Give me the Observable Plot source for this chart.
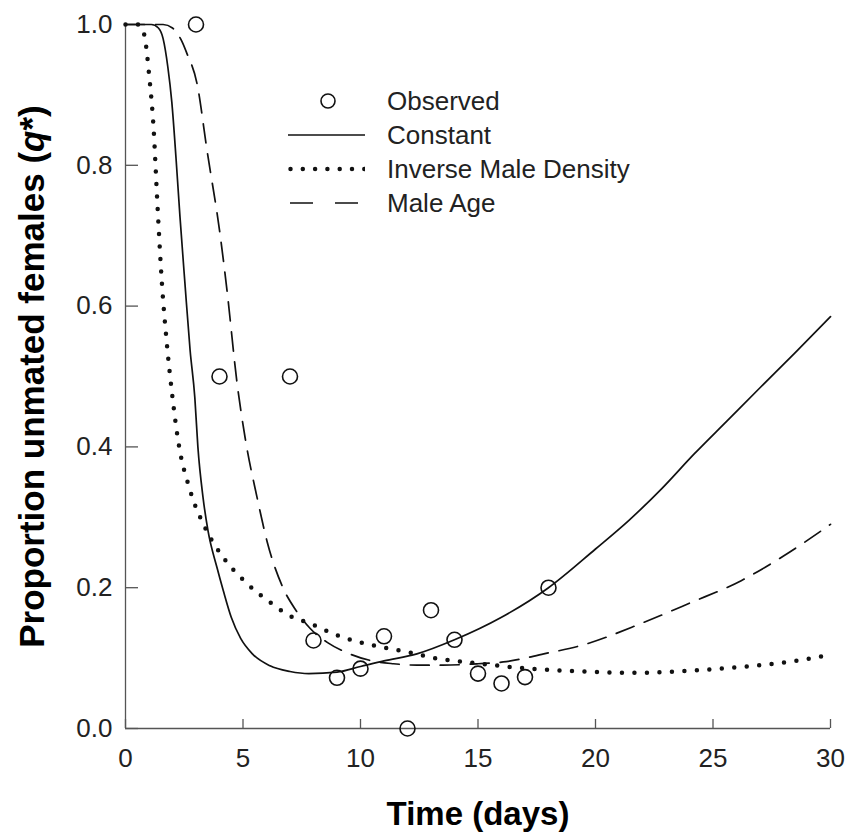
<!DOCTYPE html>
<html>
<head>
<meta charset="utf-8">
<script src="https://cdn.jsdelivr.net/npm/d3@7"></script>
<script src="https://cdn.jsdelivr.net/npm/@observablehq/plot@0.6"></script>
<style>
  html, body { margin: 0; padding: 0; background: #fff; }
  #wrap { position: relative; width: 845px; height: 832px; font-family: "Liberation Sans", Arial, sans-serif; color: #222; }
  #legend { position: absolute; left: 288px; top: 84px; }
  .row { display: flex; align-items: center; height: 34px; }
  .row svg { width: 77px; height: 34px; flex: none; }
  .row span { margin-left: 22px; font-size: 26px; line-height: 34px; white-space: nowrap; }
</style>
</head>
<body>
<div id="wrap">
  <div id="chart"></div>
  <div id="legend"></div>
</div>
<script>
// ---- data ----
const xTicks = [0, 5, 10, 15, 20, 25, 30];
const yTicks = [0.0, 0.2, 0.4, 0.6, 0.8, 1.0];

const observedDays = [3, 4, 7, 8, 9, 10, 11, 12, 13, 14, 15, 16, 17, 18];
const observedQ    = [1.0, 0.5, 0.5, 0.125, 0.072, 0.085, 0.131, 0.0, 0.168, 0.126, 0.078, 0.064, 0.073, 0.2];

const constantCurve = [
  [0, 1], [1.1, 1], [1.4, 0.995], [1.6, 0.98], [1.8, 0.94], [1.97, 0.89], [2.15, 0.81],
  [2.32, 0.726], [2.53, 0.632], [2.75, 0.537], [2.95, 0.47], [3.08, 0.4], [3.3, 0.328],
  [3.51, 0.281], [3.89, 0.229], [4.16, 0.196], [4.5, 0.158], [4.9, 0.128], [5.4, 0.106],
  [6.15, 0.089], [7, 0.081], [7.8, 0.078], [9, 0.08], [10, 0.088], [11, 0.096], [12.4, 0.106],
  [14, 0.126], [16, 0.158], [18, 0.2], [20, 0.255], [21.4, 0.295], [22.8, 0.34], [24.2, 0.39],
  [25.6, 0.437], [27, 0.484], [28.5, 0.534], [30, 0.585]
];

const inverseDensityCurve = [
  [0, 1], [0.55, 1], [0.7, 0.995], [0.83, 0.98], [1.0, 0.93], [1.2, 0.85], [1.35, 0.75],
  [1.55, 0.632], [1.75, 0.55], [1.98, 0.476], [2.24, 0.409], [2.75, 0.338], [3.39, 0.285],
  [4.16, 0.243], [5.17, 0.206], [6.2, 0.178], [7.0, 0.16], [7.86, 0.149], [9.2, 0.13],
  [10.55, 0.118], [12.1, 0.108], [13, 0.101], [15.1, 0.092], [17.2, 0.085], [19.4, 0.081],
  [21.5, 0.079], [24, 0.082], [26.7, 0.089], [28.5, 0.096], [30, 0.105]
];

const maleAgeCurve = [
  [0, 1], [1.6, 1], [2.0, 0.995], [2.4, 0.976], [2.6, 0.96], [3.05, 0.915], [3.47, 0.821],
  [4.02, 0.703], [4.32, 0.622], [4.75, 0.49], [5.09, 0.413], [5.6, 0.328], [6.03, 0.265],
  [6.7, 0.2], [7.25, 0.168], [7.86, 0.142], [8.6, 0.122], [9.4, 0.108], [10.5, 0.096],
  [11.4, 0.092], [12.4, 0.09], [13.5, 0.09], [15, 0.092], [16.2, 0.095], [17.8, 0.106],
  [19.4, 0.118], [22, 0.15], [24, 0.178], [26.2, 0.21], [28, 0.245], [30, 0.29]
];

const legendLabels = ["Observed", "Constant", "Inverse Male Density", "Male Age"];
const xTitle = "Time (days)";
const yTitle = "Proportion unmated females (q*)";

const observed = observedDays.map((d, i) => ({day: d, q: observedQ[i]}));

const ink = "#111";
const axisInk = "#555";

const chart = Plot.plot({
  width: 845,
  height: 832,
  marginLeft: 125,
  marginRight: 15,
  marginTop: 24,
  marginBottom: 104,
  x: {domain: [0, 30]},
  y: {domain: [0, 1]},
  style: {fontFamily: "'Liberation Sans', Arial, sans-serif", background: "#fff", color: "#222", overflow: "visible"},
  marks: [
    // axis lines
    Plot.ruleX([0], {stroke: axisInk, strokeWidth: 1.3}),
    Plot.ruleY([0], {stroke: axisInk, strokeWidth: 1.3}),
    // inward ticks
    Plot.ruleX(xTicks, {x: d => d, y1: () => 0, y2: () => 0, insetBottom: 9, stroke: axisInk, strokeWidth: 1.3}),
    Plot.ruleY(yTicks, {y: d => d, x1: () => 0, x2: () => 0, insetRight: -13, stroke: axisInk, strokeWidth: 1.3}),
    // tick labels
    Plot.axisX({ticks: xTicks, tickSize: 0, tickPadding: 20, fontSize: 26, label: null, tickFormat: d3.format("d")}),
    Plot.axisY({ticks: yTicks, tickSize: 0, tickPadding: 13, fontSize: 26, label: null, tickFormat: d3.format(".1f")}),
    // model curves
    Plot.line(maleAgeCurve, {x: d => d[0], y: d => d[1], curve: "monotone-x", stroke: ink, strokeWidth: 1.7, strokeDasharray: "19,11"}),
    Plot.line(constantCurve, {x: d => d[0], y: d => d[1], curve: "monotone-x", stroke: ink, strokeWidth: 1.7}),
    Plot.line(inverseDensityCurve, {x: d => d[0], y: d => d[1], curve: "monotone-x", stroke: ink, strokeWidth: 4.5, strokeDasharray: "0,12.5", strokeLinecap: "round"}),
    // observed
    Plot.dot(observed, {x: "day", y: "q", r: 7.5, stroke: ink, strokeWidth: 1.6, fill: "none"}),
    // axis titles
    Plot.text([xTitle], {text: d => d, frameAnchor: "bottom", dy: 86, textAnchor: "middle", lineAnchor: "middle", fontSize: 33, fontWeight: "bold", fill: "#000"}),
    Plot.text([yTitle], {text: d => d, frameAnchor: "left", dx: -93, rotate: -90, textAnchor: "middle", lineAnchor: "middle", fontSize: 35, fontWeight: "bold", fill: "#000"})
  ]
});

// italic q in the y title
for (const t of chart.querySelectorAll("text")) {
  if (t.textContent === yTitle) {
    t.textContent = "";
    const parts = [["Proportion unmated females (", null], ["q", "italic"], ["*)", null]];
    for (const [s, style] of parts) {
      const ts = document.createElementNS("http://www.w3.org/2000/svg", "tspan");
      ts.textContent = s;
      if (style) ts.setAttribute("font-style", style);
      t.appendChild(ts);
    }
  }
}

document.getElementById("chart").appendChild(chart);

// legend
const legend = document.getElementById("legend");
const swatches = [
  `<circle cx="40" cy="17" r="7" fill="none" stroke="${ink}" stroke-width="1.6"/>`,
  `<line x1="0" y1="17" x2="77" y2="17" stroke="${ink}" stroke-width="1.7"/>`,
  `<line x1="2.5" y1="17" x2="77" y2="17" stroke="${ink}" stroke-width="4.5" stroke-linecap="round" stroke-dasharray="0,12.3"/>`,
  `<line x1="2" y1="17" x2="72" y2="17" stroke="${ink}" stroke-width="1.7" stroke-dasharray="23,22"/>`
];
legendLabels.forEach((label, i) => {
  const row = document.createElement("div");
  row.className = "row";
  row.innerHTML = `<svg viewBox="0 0 77 34">${swatches[i]}</svg><span>${label}</span>`;
  legend.appendChild(row);
});
</script>
</body>
</html>
